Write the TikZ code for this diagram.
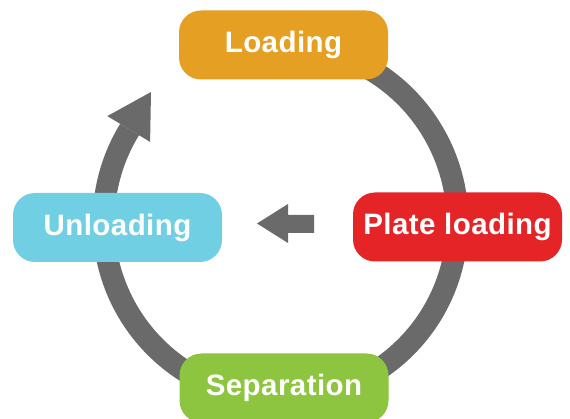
\documentclass[tikz,border=0pt]{standalone}
\usepackage{fontspec}
\newfontfamily\boxfont[LetterSpace=1.5]{Liberation Sans}
\definecolor{cycgray}{HTML}{6A6A6A}
\definecolor{cycorange}{HTML}{E5A024}
\definecolor{cycred}{HTML}{E52427}
\definecolor{cycblue}{HTML}{70CFE3}
\definecolor{cycgreen}{HTML}{8DC540}
\tikzset{
  stagebox/.style={rounded corners=22pt, minimum width=209pt, minimum height=69pt,
    inner sep=0pt, text=white, font=\boxfont\bfseries\fontsize{29.5}{30}\selectfont},
  cycleline/.style={draw=cycgray, line width=22pt},
  grayfill/.style={fill=cycgray, draw=none}
}
\begin{document}
\begin{tikzpicture}[x=1pt,y=-1pt]
\useasboundingbox (0,0) rectangle (570,419);
\coordinate (c) at (280.5,222);
% main cycle arc
\draw[cycleline] ([shift={(-75:177)}]c) arc[start angle=-75, end angle=211.5, radius=177];
% arrowhead of the cycle
\fill[grayfill] (151,92) -- (107.3,116.1) -- (150.1,141.9) -- cycle;
% middle arrow
\fill[grayfill] (257,223.5) -- (288,204) -- (288,215) -- (314,215) -- (314,233) -- (288,233) -- (288,243) -- cycle;
% stage boxes
\node[stagebox, fill=cycorange] (loading) at (283.5,45) {Loading};
\node[stagebox, fill=cycred] (plate) at (457.5,227) {Plate loading};
\node[stagebox, fill=cycblue] (unloading) at (117.5,227.5) {Unloading};
\node[stagebox, fill=cycgreen] (separation) at (284,388) {Separation};
\end{tikzpicture}
\end{document}
